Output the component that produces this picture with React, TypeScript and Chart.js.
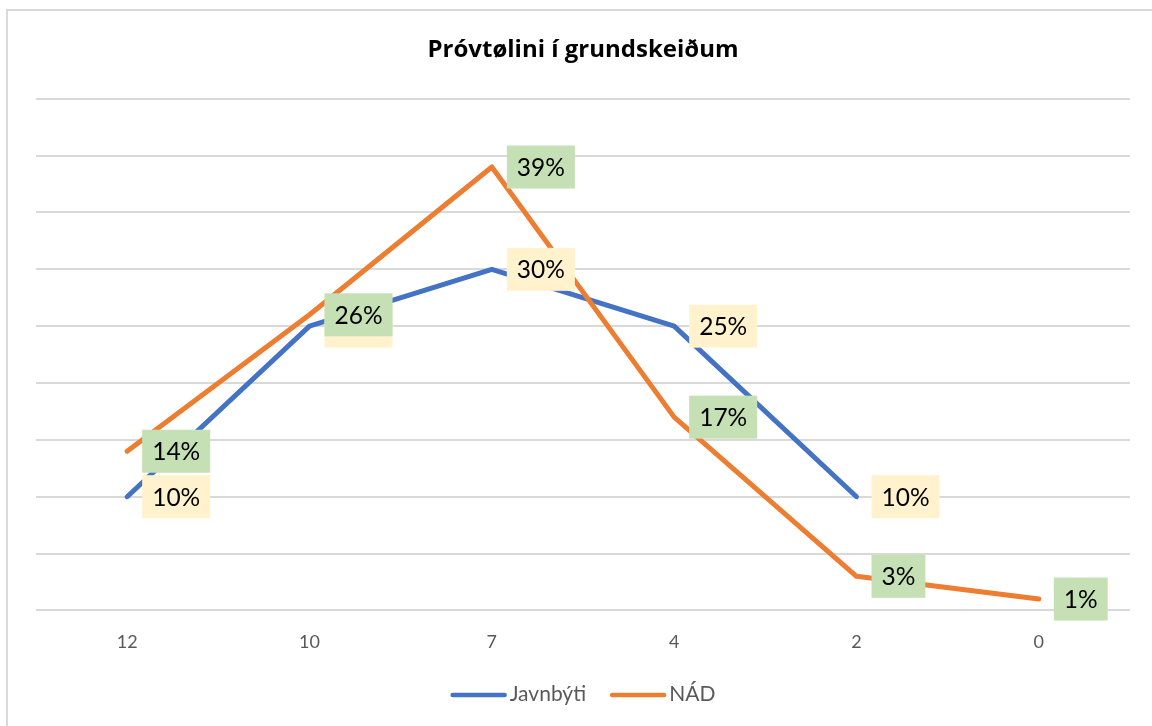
import React, { useEffect, useRef } from "react";
import { Chart, registerables } from "chart.js";

Chart.register(...registerables);

const categories = ["12", "10", "7", "4", "2", "0"];
const javnbytiValues: (number | null)[] = [10, 25, 30, 25, 10, null];
const nadValues: (number | null)[] = [14, 26, 39, 17, 3, 1];
const seriesNames = ["Javnbýti", "NÁD"];
const lineColors = ["#4472C4", "#ED7D31"];
const labelColors = ["#FFF2CC", "#C5E0B4"];
const titleText = "Próvtølini í grundskeiðum";

const FONT = "Lato, 'Noto Sans', sans-serif";

const dataLabelPlugin = {
  id: "dataLabelBoxes",
  afterDatasetsDraw(chart: any) {
    const ctx = chart.ctx;
    ctx.save();
    ctx.font = `24.5px ${FONT}`;
    ctx.textBaseline = "middle";
    ctx.textAlign = "left";
    chart.data.datasets.forEach((ds: any, di: number) => {
      const meta = chart.getDatasetMeta(di);
      meta.data.forEach((pt: any, i: number) => {
        const v = ds.data[i];
        if (v === null || v === undefined) return;
        const text = `${v}%`;
        const tw = ctx.measureText(text).width;
        const w = tw + 20;
        const h = 43;
        const x = pt.x + 15;
        const y = pt.y - h / 2;
        ctx.fillStyle = labelColors[di];
        ctx.fillRect(x, y, w, h);
        ctx.fillStyle = "#000000";
        ctx.fillText(text, x + 10, pt.y + 1);
      });
    });
    ctx.restore();
  },
};

const legendPlugin = {
  id: "customLegend",
  afterDraw(chart: any) {
    const ctx = chart.ctx;
    ctx.save();
    ctx.font = `21px ${FONT}`;
    ctx.textBaseline = "middle";
    const lineW = 56;
    const gap = 3;
    const itemGap = 24;
    const widths = seriesNames.map((n) => lineW + gap + ctx.measureText(n).width);
    const total = widths.reduce((a, b) => a + b, 0) + itemGap * (seriesNames.length - 1);
    let x = (chart.chartArea.left + chart.chartArea.right) / 2 - total / 2;
    const y = 695;
    seriesNames.forEach((n, i) => {
      ctx.strokeStyle = lineColors[i];
      ctx.lineWidth = 4.5;
      ctx.lineCap = "round";
      ctx.beginPath();
      ctx.moveTo(x + 2, y);
      ctx.lineTo(x + lineW - 2, y);
      ctx.stroke();
      ctx.fillStyle = "#595959";
      ctx.fillText(n, x + lineW + gap, y - 1);
      x += widths[i] + itemGap;
    });
    ctx.restore();
  },
};

export default function App() {
  const canvasRef = useRef<HTMLCanvasElement | null>(null);

  useEffect(() => {
    if (!canvasRef.current) return;
    const chart = new Chart(canvasRef.current, {
      type: "line",
      data: {
        labels: categories,
        datasets: [
          {
            label: seriesNames[0],
            data: javnbytiValues,
            borderColor: lineColors[0],
            backgroundColor: lineColors[0],
            borderWidth: 5,
            pointRadius: 0,
            tension: 0,
            borderJoinStyle: "round",
            borderCapStyle: "round",
            order: 2,
          },
          {
            label: seriesNames[1],
            data: nadValues,
            borderColor: lineColors[1],
            backgroundColor: lineColors[1],
            borderWidth: 5,
            pointRadius: 0,
            tension: 0,
            borderJoinStyle: "round",
            borderCapStyle: "round",
            order: 1,
          },
        ],
      },
      options: {
        responsive: false,
        animation: false,
        layout: { padding: { left: 36, right: 22, top: 0, bottom: 52 } },
        plugins: {
          legend: { display: false },
          tooltip: { enabled: false },
          title: {
            display: true,
            text: titleText,
            color: "#000000",
            font: { family: "'Open Sans', Lato, sans-serif", size: 24, weight: "bold" },
            padding: { top: 36, bottom: 34 },
          },
        },
        scales: {
          x: {
            offset: true,
            grid: { display: false, drawTicks: false },
            border: { display: false },
            ticks: {
              color: "#595959",
              font: { family: FONT, size: 18 },
              padding: 21,
            },
          },
          y: {
            min: 0,
            max: 45,
            grid: { color: "#d9d9d9", lineWidth: 2, drawTicks: false },
            border: { display: false },
            ticks: { display: false, stepSize: 5 },
          },
        },
      },
      plugins: [dataLabelPlugin, legendPlugin],
    });
    return () => chart.destroy();
  }, []);

  return (
    <>
      <canvas
        ref={canvasRef}
        width={1152}
        height={726}
        style={{ position: "fixed", left: 0, top: 0, width: 1152, height: 726, background: "#fff" }}
      />
      <div
        style={{
          position: "fixed",
          left: 6,
          top: 9,
          width: 1200,
          height: 800,
          border: "2px solid #d9d9d9",
          pointerEvents: "none",
        }}
      />
    </>
  );
}
